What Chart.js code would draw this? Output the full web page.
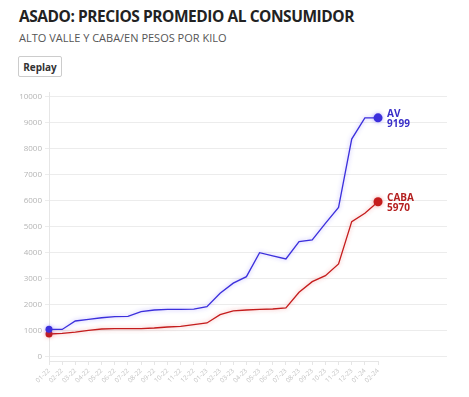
<!DOCTYPE html>
<html>
<head>
<meta charset="utf-8">
<script src="https://cdn.jsdelivr.net/npm/chart.js@4.4.0/dist/chart.umd.min.js"></script>
<style>
  html, body { margin: 0; padding: 0; background: #fff; }
  body { width: 469px; height: 397px; position: relative; overflow: hidden; font-family: "Open Sans", sans-serif; }
  #title { position: absolute; left: 19px; top: 5px; font-family: "Open Sans", sans-serif; font-weight: 700; font-size: 15.5px; color: #222; letter-spacing: -0.45px; white-space: nowrap; }
  #sub { position: absolute; left: 19px; top: 30px; font-family: "Open Sans", sans-serif; font-size: 11px; color: #555; white-space: nowrap; }
  #replay { position: absolute; left: 18px; top: 56px; width: 42px; height: 19px; border: 1px solid #ccc; border-radius: 2px; background: #fff; font-family: "Open Sans", sans-serif; font-weight: 700; font-size: 10px; color: #333; display: flex; align-items: center; justify-content: center; box-sizing: content-box; }
  #wrap { position: absolute; left: 0; top: 82px; width: 469px; height: 315px; }
</style>
</head>
<body>
<div id="title">ASADO: PRECIOS PROMEDIO AL CONSUMIDOR</div>
<div id="sub">ALTO VALLE Y CABA/EN PESOS POR KILO</div>
<div id="replay">Replay</div>
<div id="wrap"><canvas id="c" width="469" height="315"></canvas></div>
<script>
const categories = ["01-22","02-22","03-22","04-22","05-22","06-22","07-22","08-22","09-22","10-22","11-22","12-22",
  "01-23","02-23","03-23","04-23","05-23","06-23","07-23","08-23","09-23","10-23","11-23","12-23","01-24","02-24"];
const avValues = [1065,1060,1385,1450,1510,1550,1565,1745,1808,1833,1833,1840,
  1936,2450,2840,3090,4010,3890,3770,4440,4500,5140,5750,8380,9199,9199];
const cabaValues = [885,910,960,1025,1077,1090,1090,1090,1115,1154,1180,1244,
  1308,1628,1770,1808,1833,1846,1885,2487,2897,3128,3577,5205,5525,5970];
const yTicks = [0,1000,2000,3000,4000,5000,6000,7000,8000,9000,10000];
const seriesNames = ["AV","CABA"];

const blue = "#3b2fdc";
const red = "#c41c1c";

function pts(arr){ return arr.map((v,i)=>({x:i,y:v})); }
function radii(n, first, last){ return Array.from({length:n},(_, i)=> i===0?first:(i===n-1?last:0)); }

const glow = {
  id: 'glow',
  beforeDatasetDraw(chart, args){
    const ctx = chart.ctx;
    ctx.save();
    const ds = chart.data.datasets[args.index];
    ctx.shadowColor = ds.glowColor;
    ctx.shadowBlur = 4;
  },
  afterDatasetDraw(chart){ chart.ctx.restore(); }
};

const endLabels = {
  id: 'endLabels',
  afterDraw(chart){
    const ctx = chart.ctx;
    const xs = chart.scales.x;
    ctx.save();
    ctx.strokeStyle = "#e6e6e6";
    ctx.lineWidth = 1;
    ctx.beginPath();
    ctx.moveTo(xs.getPixelForValue(0), chart.chartArea.bottom + 0.5);
    ctx.lineTo(xs.getPixelForValue(categories.length-1), chart.chartArea.bottom + 0.5);
    ctx.stroke();
    chart.data.datasets.forEach((ds, i) => {
      const meta = chart.getDatasetMeta(i);
      const p = meta.data[meta.data.length-1];
      const val = ds.data[ds.data.length-1].y;
      ctx.fillStyle = ds.labelColor;
      ctx.font = "bold 10px 'Open Sans', sans-serif";
      ctx.textAlign = "left";
      ctx.textBaseline = "alphabetic";
      ctx.fillText(seriesNames[i], p.x + 9, p.y - 0.5);
      ctx.fillText(String(val), p.x + 9, p.y + 9.5);
    });
    ctx.restore();
  }
};

new Chart(document.getElementById('c'), {
  type: 'line',
  data: {
    datasets: [
      { data: pts(avValues), borderColor: blue, backgroundColor: blue, borderWidth: 1.3, clip: false,
        pointRadius: radii(avValues.length, 3.5, 4.5), pointBorderWidth: 0, tension: 0,
        glowColor: "rgba(90,70,255,0.45)", labelColor: "#3a2fc8" },
      { data: pts(cabaValues), borderColor: red, backgroundColor: red, borderWidth: 1.3, clip: false,
        pointRadius: radii(cabaValues.length, 3.5, 4.5), pointBorderWidth: 0, tension: 0,
        glowColor: "rgba(230,60,60,0.45)", labelColor: "#b42020" }
    ]
  },
  options: {
    responsive: false,
    animation: false,
    layout: { padding: { top: 10, right: 22, left: 0, bottom: 0 } },
    plugins: { legend: { display: false }, tooltip: { enabled: false } },
    scales: {
      x: {
        type: 'linear', min: 0, max: 30.24,
        afterBuildTicks(s){ s.ticks = categories.map((c,i)=>({value:i})); },
        afterFit(s){ s.height = 36; },
        grid: { drawOnChartArea: false, tickLength: 4, color: "#e6e6e6" },
        border: { display: false },
        ticks: {
          autoSkip: false, maxRotation: 45, minRotation: 45, padding: 2,
          color: "#c4c4c4", font: { size: 6.5, family: "'Open Sans', sans-serif" },
          callback(v){ return categories[v]; }
        }
      },
      y: {
        min: -154, max: 10192,
        afterBuildTicks(s){ s.ticks = yTicks.map(v=>({value:v})); },
        afterFit(s){ s.width = 49; },
        grid: { color: "#ececec", tickLength: 4 },
        border: { display: true, color: "#e6e6e6" },
        ticks: { color: "#b5b5b5", padding: 3, font: { size: 8, family: "'Open Sans', sans-serif" },
          callback(v){ return String(v); } }
      }
    }
  },
  plugins: [glow, endLabels]
});
</script>
</body>
</html>
